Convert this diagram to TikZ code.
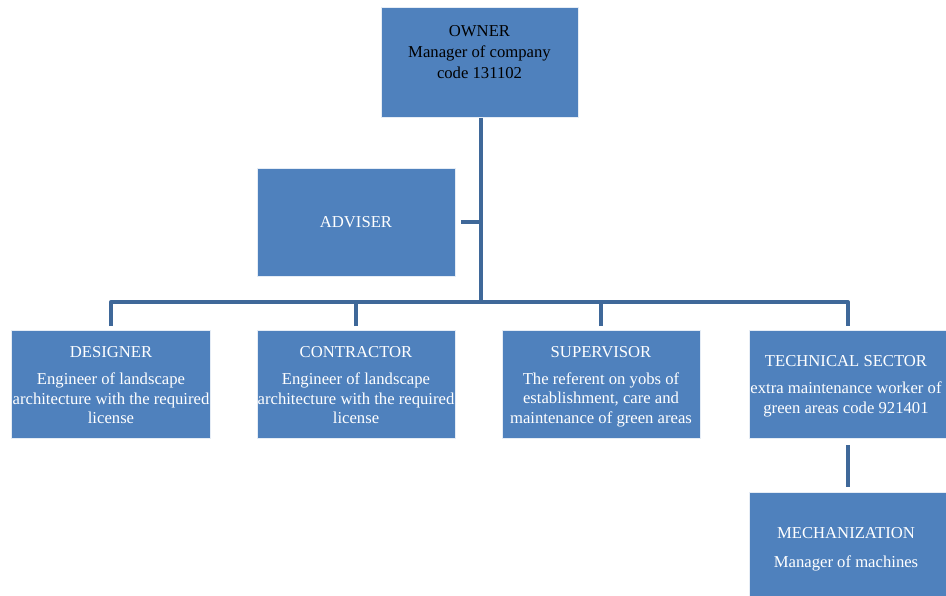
\documentclass[tikz,border=0pt]{standalone}
\usepackage{fontspec}
\setmainfont{Liberation Serif}
\definecolor{boxblue}{HTML}{4F81BD}
\definecolor{connblue}{HTML}{3F6899}
\begin{document}
\begin{tikzpicture}[x=0.75pt,y=-0.75pt,
  box/.style={fill=boxblue, draw=white!85!boxblue, line width=0.6pt, anchor=north west, inner sep=0pt, minimum width=148.5pt, minimum height=81pt},
  txt/.style={align=center, text=white, inner sep=0pt, font=\fontsize{12.5}{14.5}\selectfont},
  conn/.style={draw=connblue, line width=3pt}]
\useasboundingbox (0,0) rectangle (946,596);
% boxes
\node[box, minimum width=147.75pt, minimum height=82.5pt] (owner) at (381,7) {};
\node[box] (adviser) at (257,168) {};
\node[box, minimum width=149.25pt] (designer) at (11,330) {};
\node[box] (contractor) at (257,330) {};
\node[box] (supervisor) at (502,330) {};
\node[box, minimum width=147.75pt] (tech) at (749,330) {};
\node[box, minimum width=147.75pt, minimum height=78pt] (mech) at (749,492) {};
% texts
\node[txt, text=black] (ownert) at (479.5,52) {OWNER\\[1.2pt]Manager of company\\[1.2pt]code 131102};
\node[txt] (advisert) at (356,222) {ADVISER};
\node[txt] (designert) at (111,385) {DESIGNER\\[6pt]Engineer of landscape\\architecture with the required\\license};
\node[txt] (contractort) at (356,385) {CONTRACTOR\\[6pt]Engineer of landscape\\architecture with the required\\license};
\node[txt] (supervisort) at (601,386.5) {SUPERVISOR\\[6pt]The referent on yobs\ of\\establishment, care and\\maintenance of green areas};
\node[txt] (techt) at (846,386) {TECHNICAL SECTOR\\[6pt]extra maintenance worker of\\green areas code 921401};
\node[txt] (mecht) at (846,549.5) {MECHANIZATION\\[7pt]Manager of machines};
% connectors
\coordinate (bus) at (481,302);
\draw[conn] (owner.south -| bus) -- (bus);
\draw[conn, line join=round, shorten <=3pt, shorten >=3pt] (designer.north) -- (designer.north |- bus) -- (tech.north |- bus) -- (tech.north);
\draw[conn, shorten <=3pt] (contractor.north) -- (contractor.north |- bus);
\draw[conn, shorten <=3pt] (supervisor.north) -- (supervisor.north |- bus);
\draw[conn, shorten <=4pt] (adviser.east) -- (adviser.east -| bus);
\draw[conn, shorten <=5pt, shorten >=4pt] (tech.south) -- (mech.north);
\end{tikzpicture}
\end{document}
